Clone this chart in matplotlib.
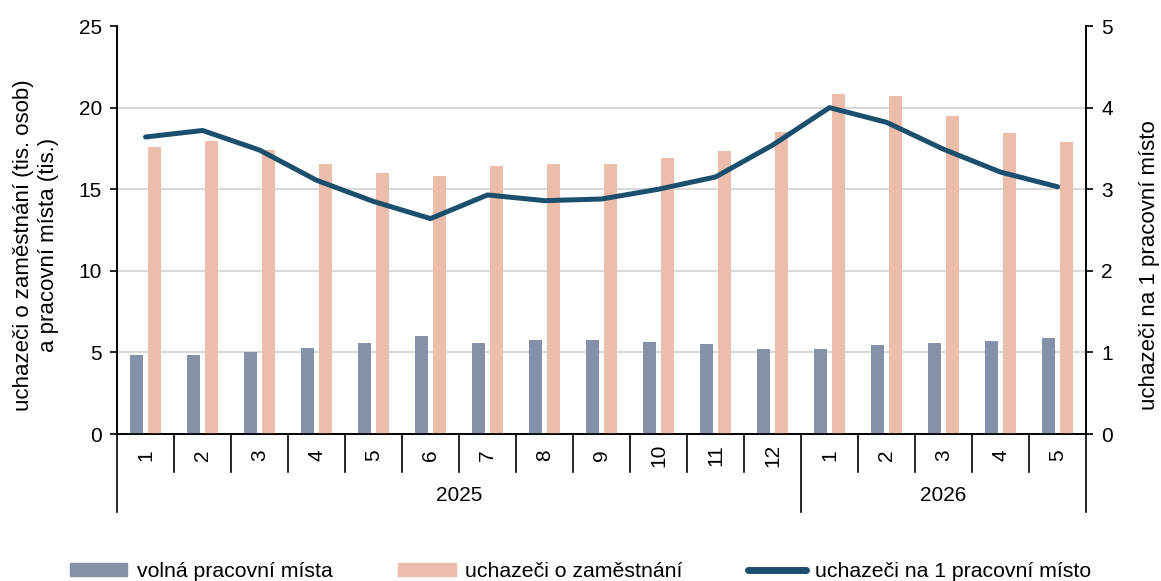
import matplotlib
matplotlib.use("Agg")
import matplotlib.pyplot as plt
import matplotlib.transforms as mtransforms
from matplotlib.lines import Line2D
from matplotlib.patches import Patch
import numpy as np

plt.rcParams['font.family'] = ['Liberation Sans', 'DejaVu Sans']

months = ["1", "2", "3", "4", "5", "6", "7", "8", "9", "10", "11", "12", "1", "2", "3", "4", "5"]
years = ["2025", "2026"]
year_counts = [12, 5]
volna_mista = [4.82, 4.82, 5.0, 5.29, 5.57, 5.98, 5.57, 5.78, 5.74, 5.66, 5.49, 5.21, 5.19, 5.43, 5.57, 5.72, 5.90]
uchazeci = [17.59, 17.93, 17.38, 16.52, 16.01, 15.81, 16.40, 16.54, 16.54, 16.93, 17.34, 18.49, 20.81, 20.71, 19.49, 18.44, 17.89]
na_misto = [3.64, 3.72, 3.48, 3.11, 2.85, 2.64, 2.93, 2.86, 2.88, 3.00, 3.15, 3.54, 4.00, 3.82, 3.49, 3.21, 3.03]

c_blue = "#8591A8"
c_pink = "#EDBDAB"
c_line = "#1B4F6E"
FS = 15

fig = plt.figure(figsize=(11.61, 5.81), dpi=100)
ax = fig.add_axes([0.1008, 0.2530, 0.8346, 0.7022])
ax2 = ax.twinx()

x = np.arange(len(months))
bw = 0.228
off = 0.158
ax.bar(x - off, volna_mista, width=bw, color=c_blue, zorder=3)
ax.bar(x + off, uchazeci, width=bw, color=c_pink, zorder=3)
ax2.plot(x, na_misto, color=c_line, lw=3.6, solid_capstyle='round', solid_joinstyle='round', zorder=4)

ax.set_xlim(-0.5, len(months) - 0.5)
ax.set_ylim(0, 25)
ax2.set_ylim(0, 5)
ax.set_yticks([0, 5, 10, 15, 20, 25])
ax2.set_yticks([0, 1, 2, 3, 4, 5])
for yv in [5, 10, 15, 20]:
    ax.axhline(yv, color="#D9D9D9", lw=1.5, zorder=1)

for a in (ax, ax2):
    a.spines['top'].set_visible(False)
    for s in ['left', 'right', 'bottom']:
        a.spines[s].set_linewidth(1.2)
        a.spines[s].set_color('black')
ax.tick_params(axis='y', labelsize=FS, length=5, width=1.2, direction='out', pad=6)
ax2.tick_params(axis='y', labelsize=FS, length=5, width=1.2, direction='out', pad=6)
ax.set_xticks([])

trans = mtransforms.blended_transform_factory(ax.transData, ax.transAxes)
for i, m in enumerate(months):
    ax.text(i, -0.052, m, rotation=90, ha='center', va='center', fontsize=FS, transform=trans)
bounds = np.arange(len(months) + 1) - 0.5
year_bounds = [-0.5]
acc = -0.5
for c in year_counts:
    acc += c
    year_bounds.append(acc)
for b in bounds:
    if any(abs(b - yb) < 1e-9 for yb in year_bounds):
        ax.plot([b, b], [0, -0.192], color='black', lw=1.2, transform=trans, clip_on=False)
    else:
        ax.plot([b, b], [0, -0.093], color='black', lw=1.2, transform=trans, clip_on=False)
for j, yl in enumerate(years):
    ax.text((year_bounds[j] + year_bounds[j + 1]) / 2, -0.15, yl, ha='center', va='center', fontsize=FS, transform=trans)

fig.text(36 / 1161, 1 - 245 / 581, "uchazeči o zaměstnání (tis. osob)\na pracovní místa (tis.)",
         rotation=90, ha='center', va='center', fontsize=FS + 1, linespacing=1.2, multialignment='center')
fig.text(1149 / 1161, 1 - 265 / 581, "uchazeči na 1 pracovní místo",
         rotation=90, ha='center', va='center', fontsize=FS + 1)

handles = [Patch(color=c_blue), Patch(color=c_pink),
           Line2D([0], [0], color=c_line, lw=5, solid_capstyle='round')]
labels = ["volná pracovní místa", "uchazeči o zaměstnání", "uchazeči na 1 pracovní místo"]
fig.legend(handles, labels, loc='center', bbox_to_anchor=(0.5, 0.016), ncol=3, frameon=False,
           fontsize=FS + 0.3, handlelength=2.7, handleheight=0.6, handletextpad=0.45, columnspacing=3.1)

fig.savefig("out.png", dpi=100)
